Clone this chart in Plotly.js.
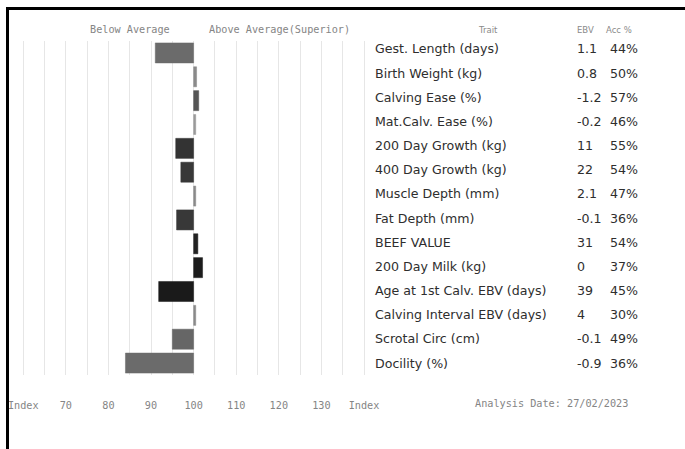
<!DOCTYPE html>
<html>
<head>
<meta charset="utf-8">
<script src="https://cdn.plot.ly/plotly-3.0.1.min.js"></script>
<style>
  html, body { margin: 0; padding: 0; background: #fff; }
  #wrap { position: relative; width: 685px; height: 449px; overflow: hidden; }
  #chart { position: absolute; left: 0; top: 0; width: 685px; height: 449px; }
  #frame { position: absolute; left: 6px; top: 7px; width: 690px; height: 450px;
           border-top: 3px solid #000; border-left: 3px solid #000; box-sizing: border-box;
           pointer-events: none; }
</style>
</head>
<body>
<div id="wrap">
  <div id="chart"></div>
  <div id="frame"></div>
</div>
<script>
// ---- data ----
const traits = [
  "Gest. Length (days)", "Birth Weight (kg)", "Calving Ease (%)", "Mat.Calv. Ease (%)",
  "200 Day Growth (kg)", "400 Day Growth (kg)", "Muscle Depth (mm)", "Fat Depth (mm)",
  "BEEF VALUE", "200 Day Milk (kg)", "Age at 1st Calv. EBV (days)", "Calving Interval EBV (days)",
  "Scrotal Circ (cm)", "Docility (%)"
];
const indexValues = [91, 100.7, 101.2, 100.5, 95.8, 97, 100.5, 96, 101, 102.1, 91.8, 100.5, 95, 84];
const ebv = ["1.1", "0.8", "-1.2", "-0.2", "11", "22", "2.1", "-0.1", "31", "0", "39", "4", "-0.1", "-0.9"];
const acc = ["44%", "50%", "57%", "46%", "55%", "54%", "47%", "36%", "54%", "37%", "45%", "30%", "49%", "36%"];
const tickVals = [60, 65, 70, 75, 80, 85, 90, 95, 100, 105, 110, 115, 120, 125, 130, 135, 140];
const tickText = ["Index", "", "70", "", "80", "", "90", "", "100", "", "110", "", "120", "", "130", "", "Index"];
const baseIndex = 100;

// ---- styles ----
const barColors = ["#6b6b6b", "#8a8a8a", "#555555", "#9a9a9a", "#333333", "#383838", "#8a8a8a",
                   "#383838", "#222222", "#1c1c1c", "#1a1a1a", "#8a8a8a", "#666666", "#6b6b6b"];
const tableFont = { family: "DejaVu Sans, sans-serif", size: 12.6, color: "#2e2e2e" };
const headFont = { family: "DejaVu Sans, sans-serif", size: 8.5, color: "#8a8a8a" };
const monoFont = { family: "DejaVu Sans Mono, monospace", size: 10.2, color: "#858585" };

const trace = {
  type: "bar",
  orientation: "h",
  y: traits,
  x: indexValues.map(v => v - baseIndex),
  base: baseIndex,
  marker: { color: barColors, line: { color: barColors, width: 0.5 } },
  hoverinfo: "skip"
};

const annotations = [];
const n = traits.length;
traits.forEach((t, i) => {
  const ys = 4 * (n - 1 - i) / (n - 1);
  [[1.017, t], [1.583, ebv[i]], [1.675, acc[i]]].forEach(c => {
    annotations.push({ xref: "paper", yref: "y", x: c[0], y: t, text: c[1], showarrow: false,
                       xanchor: "left", yanchor: "middle", yshift: ys, font: tableFont });
  });
});
[["Below Average", 0.336, monoFont], ["Above Average(Superior)", 0.756, monoFont],
 ["Trait", 1.339, headFont], ["EBV", 1.613, headFont], ["Acc %", 1.706, headFont]
].forEach(h => annotations.push({ xref: "paper", yref: "paper", x: h[1], y: 1.033, text: h[0],
  showarrow: false, xanchor: "center", yanchor: "middle", font: h[2] }));
annotations.push({ xref: "paper", yref: "paper", x: 1.297, y: -0.084, text: "Analysis Date: 27/02/2023",
  showarrow: false, xanchor: "left", yanchor: "middle", font: monoFont });

const layout = {
  width: 685, height: 449,
  margin: { l: 10, r: 318, t: 41, b: 74, pad: 0 },
  paper_bgcolor: "#ffffff", plot_bgcolor: "#ffffff",
  showlegend: false,
  bargap: 0.16,
  xaxis: {
    range: [56.9, 140.7], tickvals: tickVals, ticktext: tickText,
    showgrid: true, gridcolor: "#e6e6e6", gridwidth: 1, zeroline: false, showline: false,
    ticks: "outside", ticklen: 21, tickcolor: "rgba(0,0,0,0)",
    tickfont: monoFont, fixedrange: true
  },
  yaxis: {
    autorange: "reversed", showticklabels: false, showgrid: false, zeroline: false,
    showline: false, ticks: "", fixedrange: true
  },
  annotations: annotations
};

Plotly.newPlot("chart", [trace], layout, { displayModeBar: false, staticPlot: true });
</script>
</body>
</html>
